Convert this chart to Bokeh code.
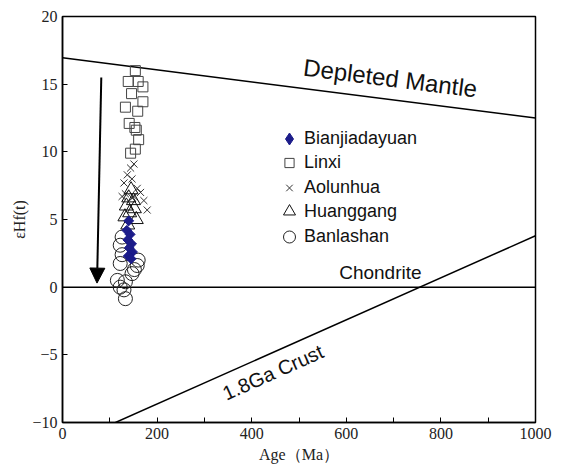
from bokeh.plotting import figure
from bokeh.models import FixedTicker, Arrow, NormalHead, Legend, LegendItem, Label
from bokeh.embed import file_html
from bokeh.resources import INLINE

# ---- reference curves (Age Ma, eHf(t)) ----
dm_age = [0, 1000]
dm_eps = [16.95, 12.5]
chur_age = [0, 1000]
chur_eps = [0, 0]
crust_age = [112, 1000]
crust_eps = [-10, 3.8]

# ---- samples ----
linxi_age = [154, 139, 160, 170, 146, 170, 133, 159, 141, 153, 156, 161, 154, 144]
linxi_eps = [16.0, 15.2, 15.2, 14.8, 14.3, 13.7, 13.3, 13.0, 12.1, 11.8, 11.6, 10.9, 10.2, 9.9]

aolunhua_age = [151, 144, 137, 147, 130, 158, 133, 165, 151, 126, 172, 179, 147]
aolunhua_eps = [9.1, 8.8, 8.3, 8.0, 7.7, 7.3, 6.9, 7.0, 6.7, 6.7, 6.4, 5.7, 6.6]

huanggang_age = [145, 140, 150, 135, 152, 142, 132, 156, 138]
huanggang_eps = [7.2, 6.6, 6.4, 6.0, 5.8, 5.5, 5.2, 5.0, 4.6]

bianjia_age = [140, 136, 143, 138, 146, 141, 148, 139, 145]
bianjia_eps = [4.9, 4.2, 3.9, 3.5, 3.2, 2.9, 2.6, 2.3, 2.1]

banlashan_age = [126, 122, 126, 122, 158, 160, 147, 116, 133, 122, 130, 133, 152]
banlashan_eps = [3.7, 3.1, 2.4, 1.75, 1.6, 2.0, 1.0, 0.5, 0.4, 0.0, -0.2, -0.85, 1.3]

x_ticks = [0, 200, 400, 600, 800, 1000]
x_minor = [100, 300, 500, 700, 900]
y_ticks = [-10, -5, 0, 5, 10, 15, 20]

W, H = 565, 470
BL, BR, BT, BB = 62, 30, 16, 48
p = figure(width=W, height=H, x_range=(0, 1000), y_range=(-10, 20),
           output_backend="svg", toolbar_location=None,
           min_border_left=BL, min_border_right=BR, min_border_top=BT, min_border_bottom=BB)
frame_h = H - BT - BB

p.xgrid.visible = False
p.ygrid.visible = False
p.outline_line_color = "black"
p.outline_line_width = 1.5
p.background_fill_color = "white"

serif = "Liberation Serif"
for ax in (p.xaxis[0], p.yaxis[0]):
    ax.axis_line_color = "black"
    ax.axis_line_width = 1.5
    ax.major_tick_in = 5
    ax.major_tick_out = 0
    ax.minor_tick_in = 5
    ax.minor_tick_out = 0
    ax.major_tick_line_color = "black"
    ax.minor_tick_line_color = "black"
    ax.major_label_text_font = serif
    ax.major_label_text_font_size = "16px"
    ax.major_label_text_color = "#222222"
    ax.axis_label_text_font = serif
    ax.axis_label_text_font_size = "16px"
    ax.axis_label_text_font_style = "normal"
    ax.axis_label_text_color = "#222222"

p.xaxis.ticker = FixedTicker(ticks=x_ticks, minor_ticks=x_minor)
p.yaxis.ticker = FixedTicker(ticks=y_ticks)
p.xaxis.axis_label = "Age（Ma）"
p.yaxis.axis_label = "εHf(t)"
p.xaxis.major_label_standoff = 5
p.xaxis.axis_label_standoff = 4
p.yaxis.major_label_standoff = 5
p.yaxis.axis_label_standoff = 1

# reference lines
p.line(dm_age, dm_eps, line_color="black", line_width=1.5)
p.line(chur_age, chur_eps, line_color="black", line_width=1.5)
p.line(crust_age, crust_eps, line_color="black", line_width=1.5)

# samples
r_lin = p.scatter(linxi_age, linxi_eps, marker="square", size=10, fill_color=None,
                  line_color="#444444", line_width=1)
r_ban = p.scatter(banlashan_age, banlashan_eps, marker="circle", size=14, fill_color=None,
                  line_color="#222222", line_width=1)
r_aol = p.scatter(aolunhua_age, aolunhua_eps, marker="x", size=10,
                  line_color="#333333", line_width=1)
r_hua = p.scatter(huanggang_age, huanggang_eps, marker="triangle", size=14, fill_color=None,
                  line_color="#111111", line_width=1)
# diamond-symbol renderer used for the legend key (hidden beneath the rotated squares)
r_bia_key = p.scatter(bianjia_age, bianjia_eps, marker="diamond", size=9,
                      fill_color="#1c1c8a", line_color="#1c1c8a")
r_bia = p.scatter(bianjia_age, bianjia_eps, marker="square", size=7, angle=0.785398,
                  fill_color="#1c1c8a", line_color="#1c1c8a")

# legend: one Legend per entry so each symbol gets its own size
legend_items = [("Bianjiadayuan", r_bia_key, 31), ("Linxi", r_lin, 23), ("Aolunhua", r_aol, 23),
                ("Huanggang", r_hua, 32), ("Banlashan", r_ban, 31)]
centers = [138, 162, 187, 211, 236]  # page y of each entry
for (lab, rend, gh), cy in zip(legend_items, centers):
    item_h = max(gh, 18)
    loc_y = frame_h - ((cy - BT) + item_h / 2)
    lg = Legend(items=[LegendItem(label=lab, renderers=[rend])],
                location=(212, loc_y), padding=0, margin=0, spacing=0,
                glyph_width=30, glyph_height=gh, label_height=18, label_standoff=0,
                label_text_font="Liberation Sans", label_text_font_size="18px",
                label_text_color="#111111",
                background_fill_alpha=0, border_line_alpha=0)
    p.add_layout(lg, "center")

# arrow
p.add_layout(Arrow(end=NormalHead(size=15, fill_color="black", line_color="black"),
                   x_start=82, y_start=15.5, x_end=73, y_end=0.3,
                   line_color="black", line_width=2))

sans = "Liberation Sans"
p.add_layout(Label(x=693, y=15.45, text="Depleted Mantle", angle=-0.126,
                   text_align="center", text_baseline="middle",
                   text_font=sans, text_font_size="24px", text_color="#111111"))
p.add_layout(Label(x=672, y=1.1, text="Chondrite",
                   text_align="center", text_baseline="middle",
                   text_font=sans, text_font_size="19px", text_color="#111111"))
p.add_layout(Label(x=445, y=-6.3, text="1.8Ga Crust", angle=0.42,
                   text_align="center", text_baseline="middle",
                   text_font=sans, text_font_size="20px", text_color="#111111"))

open("out.html", "w").write(file_html(p, INLINE))
